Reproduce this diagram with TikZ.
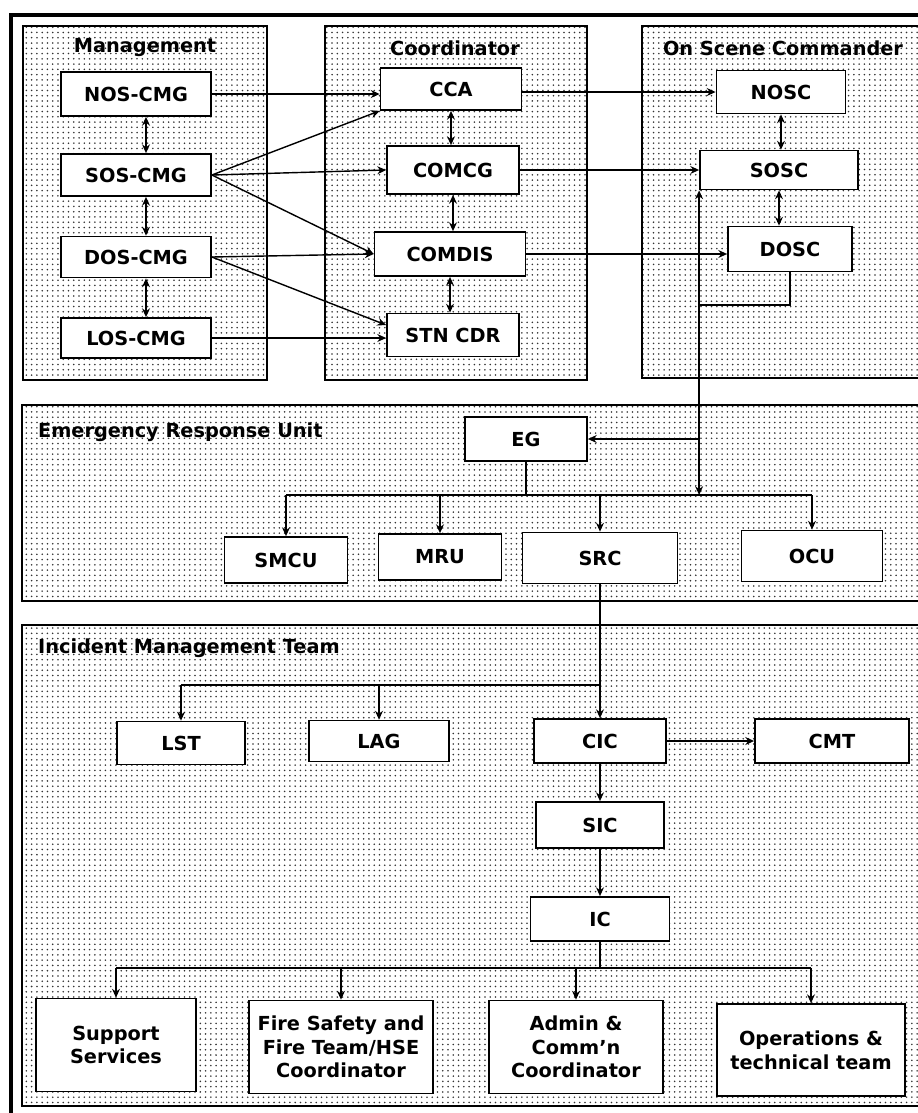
\documentclass[tikz,border=0pt]{standalone}
\usepackage{fontspec}
\setmainfont{DejaVu Sans}
\usetikzlibrary{arrows.meta,patterns}

\begin{document}
\begin{tikzpicture}[x=0.02cm, y=-0.02cm, >={Stealth[length=5pt,width=4.5pt]},
        font=\bfseries\fontsize{11}{13.5}\selectfont,
        sect/.style={draw, line width=1pt, pattern=dots, pattern color=black!80},
        box/.style={draw, line width=1pt, fill=white, align=center, inner sep=2pt},
        sz/.style 2 args={minimum width=#1*0.02cm, minimum height=#2*0.02cm},
        link/.style={line width=0.8pt},
        title/.style={inner sep=1pt}]

        \useasboundingbox (0,0) rectangle (918,1113);

        % Cornice esterna
        \draw[line width=1.8pt] (940,15) -- (11,15) -- (11,1130);

        % Riquadri
        \draw[sect] (23,26) rectangle (267,380);
        \draw[sect] (325,26) rectangle (587,380);
        \draw[sect] (642,26) rectangle (940,378);
        \draw[sect] (22,405) rectangle (940,601);
        \draw[sect] (22,625) rectangle (940,1106);

        % Titoli
        \node[title] (tman) at (145,48) {Management};
        \node[title] (tcoord) at (455,48) {Coordinator};
        \node[title] (tosc) at (783,48) {On Scene Commander};
        \node[title, anchor=west] (teru) at (36,432) {Emergency Response Unit};
        \node[title, anchor=west] (timt) at (36,648) {Incident Management Team};

        % Management
        \node[box, sz={150}{44}] (noscmg) at (136,94) {NOS-CMG};
        \node[box, sz={150}{42}] (soscmg) at (136,175) {SOS-CMG};
        \node[box, sz={150}{41}] (doscmg) at (136,257) {DOS-CMG};
        \node[box, sz={150}{40}] (loscmg) at (136,338) {LOS-CMG};

        % Coordinator
        \node[box, sz={141}{42}] (cca) at (451,89) {CCA};
        \node[box, sz={132}{48}] (comcg) at (453,170) {COMCG};
        \node[box, sz={151}{44}] (comdis) at (450,254) {COMDIS};
        \node[box, sz={132}{43}] (stncdr) at (453,335) {STN CDR};

        % On Scene Commander
        \node[box, sz={129}{43}] (nosc) at (781,92) {NOSC};
        \node[box, sz={158}{39}] (sosc) at (779,170) {SOSC};
        \node[box, sz={124}{45}] (dosc) at (790,249) {DOSC};

        % Frecce doppie verticali
        \foreach \a/\b in {noscmg/soscmg, soscmg/doscmg, doscmg/loscmg}
            \draw[link, <->] ([xshift=.2cm]\a.south) -- ([xshift=.2cm]\b.north);
        \foreach \a/\b in {cca/comcg, comcg/comdis, comdis/stncdr}
            \draw[link, <->] (\a.south) -- (\a.south |- \b.north);
        \draw[link, <->] (nosc.south) -- (nosc.south |- sosc.north);
        \draw[link, <->] (sosc.south) -- (sosc.south |- dosc.north);

        % Management -> Coordinator
        \draw[link, ->] (noscmg.east) -- (noscmg -| cca.west);
        \draw[link, ->] (soscmg.east) -- (cca.south west);
        \draw[link, ->] (soscmg.east) -- (comcg.west);
        \draw[link, ->] (soscmg.east) -- (comdis.west);
        \draw[link, ->] (doscmg.east) -- (comdis.west);
        \draw[link, ->] (doscmg.east) -- ([yshift=.2cm]stncdr.west);
        \draw[link, ->] (loscmg.east) -- (loscmg -| stncdr.west);

        % Coordinator -> On Scene Commander
        \draw[link, ->] (nosc -| cca.east) -- (nosc.west);
        \draw[link, ->] (comcg.east) -- (comcg -| sosc.west);
        \draw[link, ->] (comdis.east) -- (comdis -| dosc.west);

        % Emergency Response Unit
        \node[box, sz={122}{44}] (eg) at (526,439) {EG};
        \node[box, sz={123}{46}] (smcu) at (286,560) {SMCU};
        \node[box, sz={123}{46}] (mru) at (440,557) {MRU};
        \node[box, sz={155}{51}] (src) at (600,558) {SRC};
        \node[box, sz={141}{51}] (ocu) at (812,556) {OCU};

        \coordinate (bus1) at (0,495);
        \coordinate (dj) at (700,305);
        \draw[link] (dosc.south) |- (dj);
        \draw[link, <->] (sosc.south west) -- (sosc.south west |- bus1);
        \draw[link, ->] (sosc.south west |- eg.east) -- (eg.east);
        \draw[link] (eg.south) -- (eg.south |- bus1);
        \draw[link] (smcu.north |- bus1) -- (ocu.north |- bus1);
        \foreach \n in {smcu, mru, src, ocu}
            \draw[link, ->] (\n.north |- bus1) -- (\n.north);

        % Incident Management Team
        \node[box, sz={128}{43}] (lst) at (181,743) {LST};
        \node[box, sz={140}{41}] (lag) at (379,741) {LAG};
        \node[box, sz={132}{44}] (cic) at (600,741) {CIC};
        \node[box, sz={154}{44}] (cmt) at (832,741) {CMT};
        \node[box, sz={128}{46}] (sic) at (600,825) {SIC};
        \node[box, sz={139}{44}] (ic) at (600,919) {IC};
        \node[box, sz={160}{93}] (supp) at (116,1045) {Support\\Services};
        \node[box, sz={184}{93}] (fire) at (341,1047) {Fire Safety and\\Fire Team/HSE\\Coordinator};
        \node[box, sz={174}{93}] (admin) at (576,1047) {Admin \&\\Comm’n\\Coordinator};
        \node[box, sz={188}{92}] (ops) at (811,1050) {Operations \&\\technical team};

        \coordinate (bus2) at (0,685);
        \draw[link, ->] (src.south) -- (cic.north);
        \draw[link] (lst.north |- bus2) -- (cic.north |- bus2);
        \foreach \n in {lst, lag}
            \draw[link, ->] (\n.north |- bus2) -- (\n.north);
        \draw[link, ->] (cic.east) -- (cmt.west);
        \draw[link, ->] (cic.south) -- (sic.north);
        \draw[link, ->] (sic.south) -- (ic.north);

        \coordinate (bus3) at (0,968);
        \draw[link] (ic.south) -- (ic.south |- bus3);
        \draw[link] (supp.north |- bus3) -- (ops.north |- bus3);
        \foreach \n in {supp, fire, admin, ops}
            \draw[link, ->] (\n.north |- bus3) -- (\n.north);

    \end{tikzpicture}
\end{document}
